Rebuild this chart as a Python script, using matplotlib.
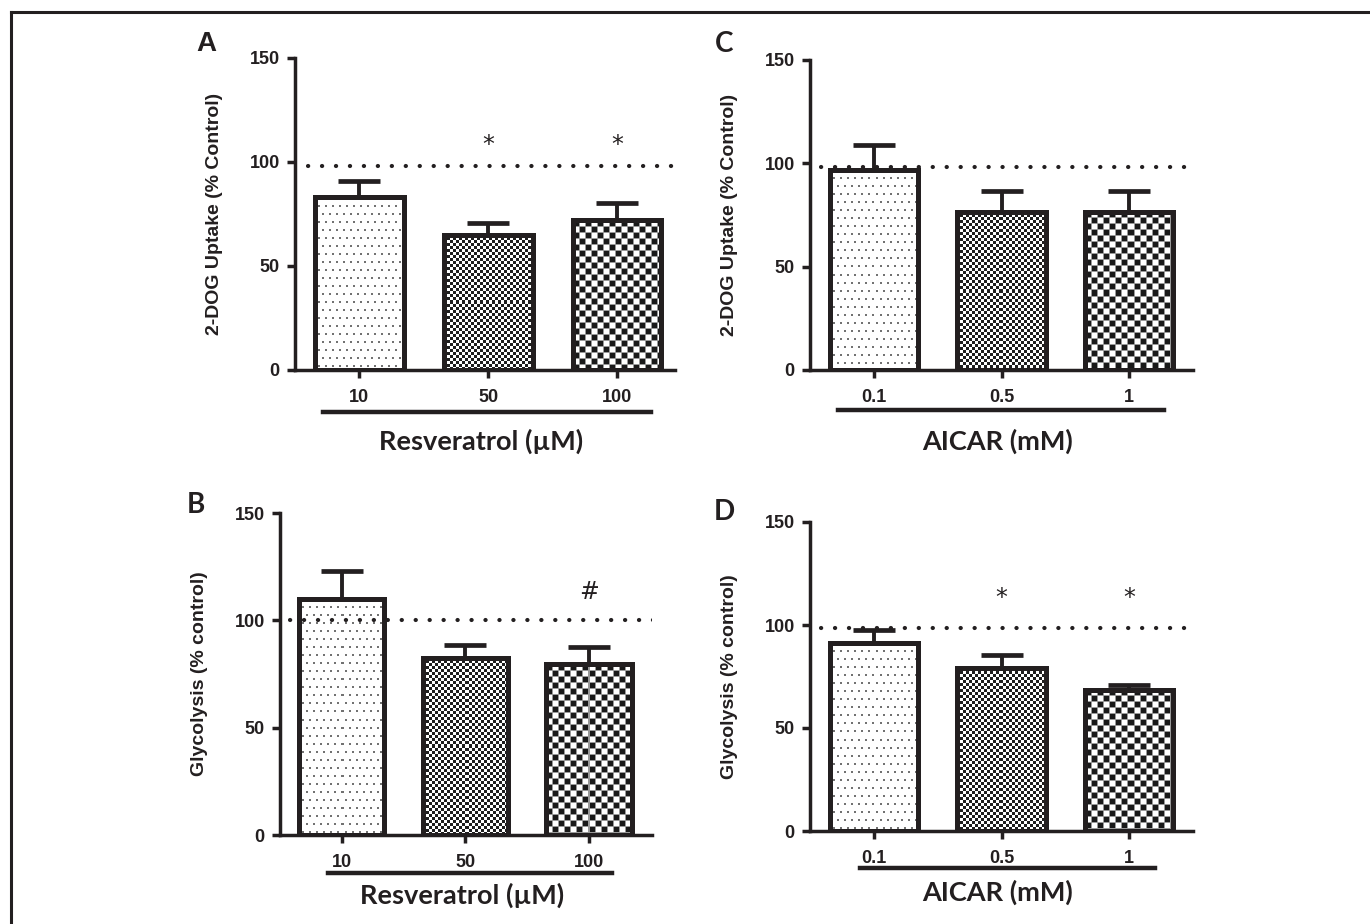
import numpy as np
import matplotlib
matplotlib.use('Agg')
import matplotlib.pyplot as plt
from matplotlib.lines import Line2D

# data
res_doses = ['10', '50', '100']
aicar_doses = ['0.1', '0.5', '1']

uptake_res = [83, 65, 72]
uptake_res_err = [8, 5.5, 8.5]
uptake_aicar = [97, 76.5, 76.5]
uptake_aicar_err = [12, 10, 10]

glyc_res = [110, 82.5, 79.5]
glyc_res_err = [13, 6, 8]
glyc_aicar = [91.5, 79, 68.5]
glyc_aicar_err = [6, 6.5, 2.5]

control_level = {'A': 98, 'B': 100, 'C': 98, 'D': 98.5}
marks = {'A': ['', '*', '*'], 'B': ['', '', '#'], 'C': ['', '', ''], 'D': ['', '*', '*']}
mark_y = {'A': 108, 'B': 113, 'C': 113, 'D': 113}

W, H = 1370, 924
fig = plt.figure(figsize=(W / 100, H / 100), dpi=100)

ARIAL = 'Liberation Sans'
CALIBRI = 'Lato'
INK = '#231f20'


def texture(kind, h, w):
    img = np.ones((h, w))
    yy, xx = np.mgrid[0:h, 0:w]
    if kind == 'dots':
        row = yy // 8
        xs = (xx + (row % 2) * 4) % 7
        mask = (yy % 8 < 2) & (xs < 2)
        img[mask] = 0.45
    elif kind == 'fine':
        img[((yy // 3) + (xx // 3)) % 2 == 0] = 0.12
    else:
        img[((yy // 6) + (xx // 6)) % 2 == 0] = 0.1
        img[(yy % 6 == 0) | (xx % 6 == 0)] = 0.6
    return np.dstack([img, img, img])


def panel(box, xlim, vals, errs, labels, ylabel, xtitle, letter, letter_xy,
          line_x, line_y, title_y, ctrl_x, key):
    l, y0, r, y150 = box
    ax = fig.add_axes([l / W, (H - y0) / H, (r - l) / W, (y0 - y150) / H])
    x = np.arange(len(vals))
    ax.set_xlim(*xlim)
    ax.set_ylim(0, 150)

    ax.errorbar(x, vals, yerr=[np.zeros(len(errs)), errs], fmt='none',
                ecolor=INK, elinewidth=2.8, capsize=15, capthick=3.4, zorder=2)
    bars = ax.bar(x, vals, width=0.69, facecolor='none', edgecolor=INK,
                  linewidth=3.6, zorder=4)
    for bar, kind in zip(bars, ['dots', 'fine', 'coarse']):
        bb = bar.get_window_extent()
        arr = texture(kind, int(round(bb.height)), int(round(bb.width)))
        im = ax.imshow(arr, extent=(bar.get_x(), bar.get_x() + bar.get_width(), 0, bar.get_height()),
                       aspect='auto', interpolation='nearest', zorder=3)
        im.set_clip_path(bar)
    ax.set_xlim(*xlim)
    ax.set_ylim(0, 150)

    ax.plot(ctrl_x, [control_level[key]] * 2, color=INK, lw=3.0,
            linestyle=(0, (0.05, 3.3)), dash_capstyle='round', zorder=5)

    for xi, m in zip(x, marks[key]):
        if m:
            ax.text(xi, mark_y[key], m, ha='center', va='center', fontsize=17,
                    family='DejaVu Sans', color=INK)

    for s in ['top', 'right']:
        ax.spines[s].set_visible(False)
    for s in ['left', 'bottom']:
        ax.spines[s].set_linewidth(2.5)
        ax.spines[s].set_color(INK)
    ax.set_yticks([0, 50, 100, 150])
    ax.set_xticks(x)
    ax.set_xticklabels(labels)
    ax.tick_params(width=2.5, length=6, color=INK, labelcolor=INK)
    ax.tick_params(axis='x', pad=8)
    ax.tick_params(axis='y', pad=5)
    for t in ax.get_xticklabels() + ax.get_yticklabels():
        t.set_fontfamily(ARIAL)
        t.set_fontweight('bold')
        t.set_fontsize(13)
    ax.set_ylabel(ylabel, fontsize=14, fontweight='bold', family=ARIAL, color=INK)
    ax.yaxis.set_label_coords(-72 / (r - l), 0.5)

    trans = ax.get_xaxis_transform()
    ax.plot(line_x, [line_y, line_y], color=INK, lw=3.2, transform=trans, clip_on=False)
    ax.text(np.mean(xlim) - 0.03, title_y, xtitle, transform=trans, ha='center', va='center',
            fontsize=19.5, fontweight='bold', family=CALIBRI, color=INK)
    fam = ARIAL if letter == 'A' else CALIBRI
    fig.text(letter_xy[0] / W, 1 - letter_xy[1] / H, letter, ha='center', va='center',
             fontsize=20, fontweight='bold', family=fam, color=INK)
    return ax


panel((295, 370, 675, 58), (-0.5, 2.45), uptake_res, uptake_res_err, res_doses,
      '2-DOG Uptake (% Control)', 'Resveratrol (\u00b5M)', 'A', (206, 44),
      (-0.28, 2.26), -0.135, -0.23, (-0.4, 2.5), 'A')
panel((810, 370, 1193, 60), (-0.5, 2.5), uptake_aicar, uptake_aicar_err, aicar_doses,
      '2-DOG Uptake (% Control)', 'AICAR (mM)', 'C', (724, 44),
      (-0.28, 2.27), -0.13, -0.23, (-0.41, 2.45), 'C')
panel((280, 835, 652, 513), (-0.5, 2.51), glyc_res, glyc_res_err, res_doses,
      'Glycolysis (% control)', 'Resveratrol (\u00b5M)', 'B', (196, 505),
      (-0.11, 2.19), -0.118, -0.186, (-0.42, 2.53), 'B')
panel((810, 831, 1193, 522), (-0.5, 2.5), glyc_aicar, glyc_aicar_err, aicar_doses,
      'Glycolysis (% control)', 'AICAR (mM)', 'D', (724, 512),
      (-0.11, 2.2), -0.12, -0.2, (-0.41, 2.45), 'D')

# frame lines on top and left
fig.add_artist(Line2D([11 / W, 1], [1 - 12 / H, 1 - 12 / H], color=INK, lw=2.2))
fig.add_artist(Line2D([11 / W, 11 / W], [0, 1 - 12 / H], color=INK, lw=2.2))

fig.savefig('out.png', dpi=100)
